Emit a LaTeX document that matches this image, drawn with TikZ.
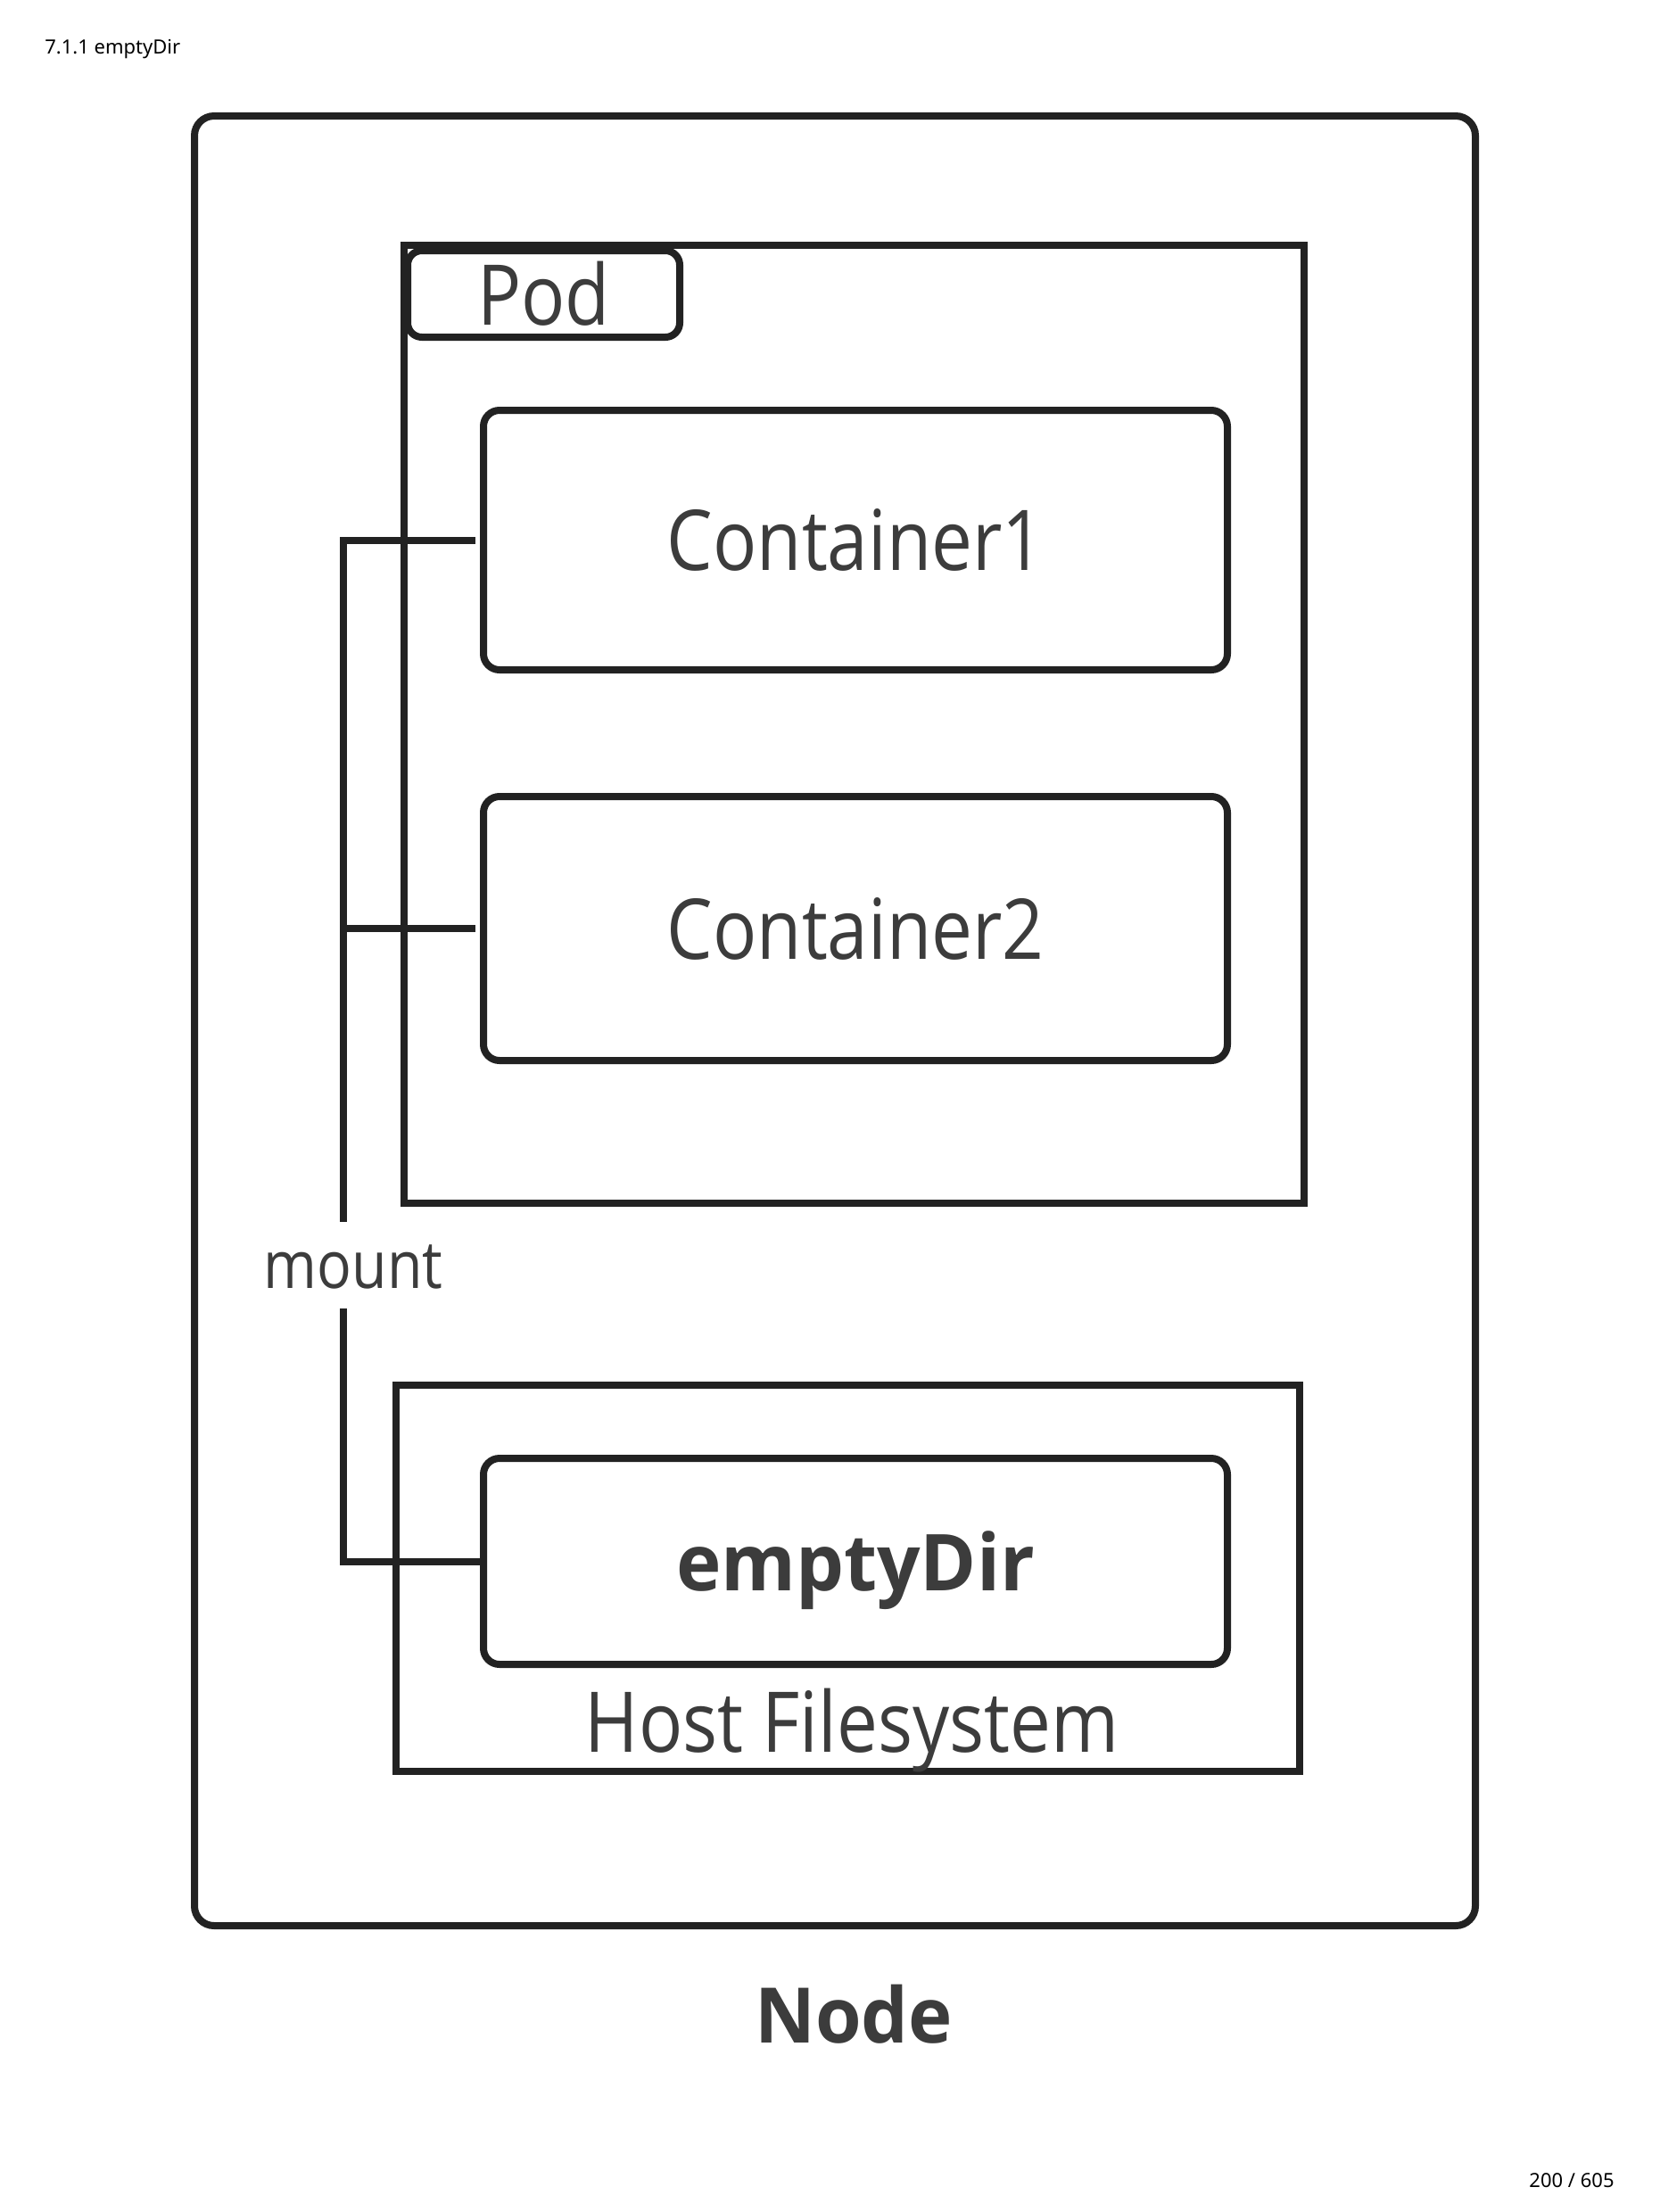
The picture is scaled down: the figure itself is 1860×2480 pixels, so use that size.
\documentclass[tikz,border=0pt]{standalone}
\usepackage{fontspec}
\setmainfont{Noto Sans}
\newfontfamily\dfont[FakeStretch=0.87]{Open Sans}
\newfontfamily\bfnt[FakeStretch=0.97]{Open Sans}
\newfontfamily\hfont{Noto Sans}
\definecolor{linec}{HTML}{222222}
\definecolor{textc}{HTML}{3C3C3C}
\begin{document}
\begin{tikzpicture}[x=0.5pt,y=-0.5pt,
  frame/.style={draw=linec, line width=4pt, rectangle, inner sep=0pt},
  rbox/.style={frame, rounded corners=9pt},
  lbl/.style={text=textc, inner sep=0pt, font=\dfont\fontsize{47}{56}\selectfont},
  conn/.style={draw=linec, line width=4pt},
  pagetext/.style={text=black, inner sep=0pt, font=\hfont\fontsize{11}{13}\selectfont}]
\useasboundingbox (0,0) rectangle (1860,2480);

% header / footer
\node[pagetext, anchor=base west] (hdr) at (50,60) {7.1.1 emptyDir};
\node[pagetext, anchor=base east] (pg) at (1810,2452) {200 / 605};

% outer Node box
\node[rbox, rounded corners=11pt, minimum width=718pt, minimum height=1014.5pt] (node) at (936,1144.5) {};
\node[lbl, anchor=base, font=\bfnt\bfseries\fontsize{43}{50}\selectfont] (nodelbl) at (957,2290) {Node};

% Pod
\node[frame, minimum width=504.5pt, minimum height=537pt] (pod) at (957.5,812) {};
\node[rbox, rounded corners=8pt, fill=white, minimum width=152.5pt, minimum height=48.5pt, lbl, draw=linec, line width=4pt] (podtab) at (609.5,329.5) {Pod};

% Containers
\node[rbox, lbl, draw=linec, line width=4pt, minimum width=417pt, minimum height=145.5pt] (c1) at (959,605.5) {Container1};
\node[rbox, lbl, draw=linec, line width=4pt, minimum width=417pt, minimum height=148pt] (c2) at (959,1041) {Container2};

% Host filesystem
\node[frame, minimum width=506.5pt, minimum height=216.5pt] (host) at (950.5,1769.5) {};
\node[lbl, anchor=base] (hostlbl) at (955,1964) {Host Filesystem};
\node[rbox, lbl, draw=linec, line width=4pt, text depth=0pt, minimum width=417pt, minimum height=115.5pt, font=\bfnt\bfseries\fontsize{44}{52}\selectfont] (ed) at (959,1750.5) {emptyDir};

% mount connector
\coordinate (bus) at (385,0);
\node[lbl, font=\dfont\fontsize{37}{42}\selectfont, minimum height=48.5pt] (mount) at (396,1418.5) {\raisebox{-13pt}[0pt][0pt]{mount}};
\draw[conn] ([xshift=-2.75pt]c1.west) -- (c1.west -| bus) -- (bus |- mount.north);
\draw[conn] ([xshift=-2.75pt]c2.west) -- (c2.west -| bus);
\draw[conn] (bus |- mount.south) -- (bus |- ed.west) -- (ed.west);
\end{tikzpicture}
\end{document}
